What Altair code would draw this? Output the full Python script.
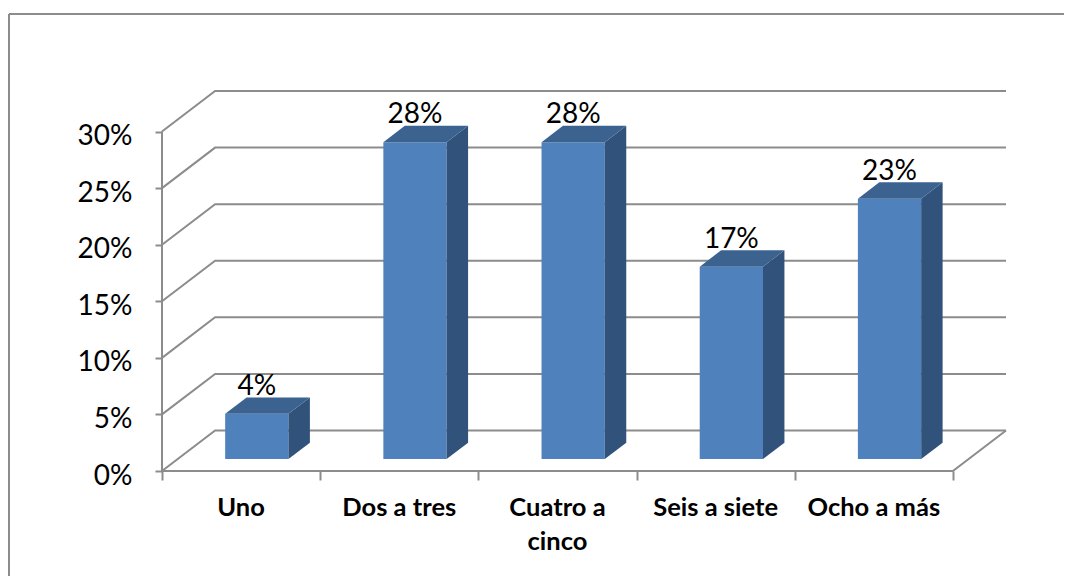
import altair as alt
import pandas as pd

categories = ["Uno", "Dos a tres", "Cuatro a\ncinco", "Seis a siete", "Ocho a más"]
values = [0.04, 0.28, 0.28, 0.17, 0.23]
ticks = [0, 0.05, 0.10, 0.15, 0.20, 0.25, 0.30]

# perspective of the floor, in axis units
DX = 0.3357
DY = 0.0358
F1, F2 = 0.296, 0.70
BAR = 0.40
n = len(categories)

FRONT, TOP, SIDE = "#4F81BD", "#3C6390", "#31527B"
GRID = "#8C8C8C"
FONT = "Lato"

xs = alt.Scale(domain=[0, n + DX], nice=False, zero=False)
ys = alt.Scale(domain=[0, 0.30 + DY], nice=False, zero=False)

rows = []
for i, (c, v) in enumerate(zip(categories, values)):
    left = i + 0.5 - BAR / 2
    rows.append(dict(cat=c, v=v,
                     x=left + F1 * DX, x2=left + BAR + F1 * DX,
                     y=F1 * DY, y2=v + F1 * DY,
                     c=i + 0.5))
bars = pd.DataFrame(rows)

side = []
top = []
for r in rows:
    for f in (F1, F2):
        d = f - F1
        side.append(dict(cat=r["cat"], x=r["x2"] + d * DX, y=r["y"] + d * DY, y2=r["y2"] + d * DY))
        top.append(dict(cat=r["cat"], x=r["x"] + d * DX, x2=r["x2"] + d * DX, y=r["y2"] + d * DY))
side = pd.DataFrame(side)
top = pd.DataFrame(top)

grid = []
for t in ticks:
    grid += [dict(t=t, o=0, x=0, y=t), dict(t=t, o=1, x=DX, y=t + DY), dict(t=t, o=2, x=n + DX, y=t + DY)]
grid += [dict(t=-1, o=0, x=0, y=0), dict(t=-1, o=1, x=n, y=0), dict(t=-1, o=2, x=n + DX, y=DY)]
grid = pd.DataFrame(grid)

X = lambda f="x": alt.X(f"{f}:Q", scale=xs, title=None)
Y = lambda f="y": alt.Y(f"{f}:Q", scale=ys, title=None)

axis_base = alt.Chart(pd.DataFrame({"x": [0], "y": [0], "y2": [0.30]})).mark_rule(
    color=GRID, strokeWidth=2
).encode(
    x=alt.X("x:Q", scale=xs, title=None, axis=alt.Axis(
        values=list(range(n + 1)), labels=False, domain=False, grid=False,
        tickColor=GRID, tickWidth=2, tickSize=9)),
    y=alt.Y("y:Q", scale=ys, title=None, axis=alt.Axis(
        values=ticks, format=".0%", domain=False, grid=False,
        tickColor=GRID, tickWidth=2, tickSize=7, labelPadding=23, labelOffset=5,
        labelFont=FONT, labelFontSize=28, labelColor="#000000")),
    y2="y2:Q",
)

grid_l = alt.Chart(grid).mark_line(color=GRID, strokeWidth=2).encode(
    x=X(), y=Y(), detail="t:N", order="o:Q"
)
front_l = alt.Chart(bars).mark_rect(color=FRONT).encode(x=X(), x2="x2:Q", y=Y(), y2="y2:Q")
side_l = alt.Chart(side).mark_area(color=SIDE).encode(x=X(), y=Y(), y2="y2:Q", detail="cat:N")
top_l = alt.Chart(top).mark_area(color=TOP, orient="horizontal").encode(
    y=Y(), x=X(), x2="x2:Q", detail="cat:N"
)
labels = alt.Chart(bars).transform_calculate(mid="(datum.x + datum.x2) / 2").mark_text(
    font=FONT, fontSize=28, color="#000000", baseline="alphabetic", dy=-19, dx=0
).encode(
    x=X("mid"), y=Y("y2"), text=alt.Text("v:Q", format=".0%")
)
cat_l = alt.Chart(bars).mark_text(
    font=FONT, fontSize=25.5, fontWeight="bold", color="#000000",
    baseline="top", lineBreak="\n", lineHeight=34, dy=25
).encode(
    x=X("c"),
    y=alt.value(380),
    text="cat:N",
)
frame_top = alt.Chart(pd.DataFrame({"a": [0]})).mark_rule(color=GRID, strokeWidth=2).encode(
    x=alt.value(-153), x2=alt.value(910), y=alt.value(-77)
)
frame_left = alt.Chart(pd.DataFrame({"a": [0]})).mark_rule(color=GRID, strokeWidth=2).encode(
    x=alt.value(-153), y=alt.value(-77), y2=alt.value(494)
)

chart = alt.layer(
    axis_base, frame_top, frame_left, grid_l, front_l, side_l, top_l, labels, cat_l
).properties(
    width=1056, height=568,
    padding={"left": 154, "top": 83, "right": 58, "bottom": 105},
    autosize=alt.AutoSizeParams(type="none", contains="padding"),
    background="white",
).configure_view(strokeWidth=0)

chart.save("out.html", embed_options={"renderer": "svg", "actions": False})
